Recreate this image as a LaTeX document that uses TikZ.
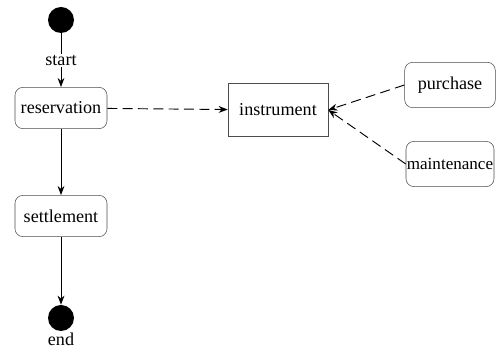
\documentclass[tikz,border=0pt]{standalone}
\usepackage{fontspec}
\setmainfont{Liberation Serif}
\usetikzlibrary{arrows.meta, positioning}

\begin{document}
\begin{tikzpicture}[
    x=0.75pt, y=-0.75pt,
    state/.style={
        rectangle,
        draw=black!70,
        rounded corners=6pt,
        minimum width=69pt,
        minimum height=31pt,
        inner sep=0pt,
        align=center,
        font=\fontsize{13.6}{15}\selectfont
    },
    obj/.style={state, rounded corners=0pt, minimum width=75pt, minimum height=40pt},
    dot/.style={circle, fill=black, minimum size=19.5pt, inner sep=0pt},
    arr/.style={-{Stealth[length=2.4mm, width=1.8mm]}, line width=0.7pt},
    dep/.style={arr, dash pattern=on 7.5pt off 4pt},
    lab/.style={font=\fontsize{13.6}{15}\selectfont, inner sep=1pt}
]
\useasboundingbox (0,0) rectangle (501,348);

\node[dot]              (start) at (61,20)   {};
\node[state]            (res)   at (61,108)  {reservation};
\node[state]            (set)   at (61,216)  {settlement};
\node[dot]              (end)   at (61,318)  {};
\node[lab, below=0pt of end] (endlab) {end};
\node[obj]              (ins)   at (278,110) {instrument};
\node[state, minimum width=68pt, minimum height=34pt] (pur) at (450,85)  {purchase};
\node[state, minimum width=66pt, minimum height=34pt,
      font=\fontsize{12.8}{15}\selectfont] (mnt) at (450,164) {maintenance};

\draw[arr] (start) -- node[lab, fill=white]{start} (res);
\draw[arr] (res) -- (set);
\draw[arr] (set) -- (end);
\draw[dep] (res) -- (ins);
\draw[dep] (pur.west) -- (ins.east);
\draw[dep] (mnt.west) -- (ins.east);

\end{tikzpicture}
\end{document}
